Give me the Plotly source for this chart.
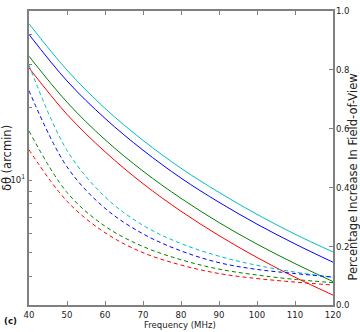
import plotly.graph_objects as go

freq = [40, 50, 60, 70, 80, 90, 100, 110, 120]

# solid lines: delta theta (arcmin), left log axis
theta_cyan = [44.3, 28.5, 19.8, 14.6, 11.2, 8.9, 7.22, 5.98, 5.05]
theta_blue = [40.0, 25.7, 18.0, 13.3, 10.2, 8.10, 6.58, 5.45, 4.58]
theta_green = [32.5, 21.0, 14.7, 10.9, 8.41, 6.68, 5.44, 4.52, 3.81]
theta_red = [29.1, 18.7, 13.1, 9.67, 7.44, 5.90, 4.79, 3.97, 3.35]

# dashed lines: percentage increase in FoV, right axis
pct_cyan = [0.816, 0.526, 0.368, 0.271, 0.209, 0.166, 0.135, 0.112, 0.094]
pct_blue = [0.729, 0.470, 0.329, 0.242, 0.184, 0.144, 0.121, 0.107, 0.095]
pct_green = [0.592, 0.383, 0.268, 0.199, 0.154, 0.122, 0.102, 0.087, 0.076]
pct_red = [0.528, 0.353, 0.246, 0.178, 0.136, 0.107, 0.090, 0.078, 0.068]

x_ticks = [40, 50, 60, 70, 80, 90, 100, 110, 120]
y_major = [10]
y_major_text = ["10<sup>1</sup>"]
y_minor = [4, 5, 6, 7, 8, 9, 20, 30, 40]
y2_ticks = [0.0, 0.2, 0.4, 0.6, 0.8, 1.0]

colors = {"cyan": "#00bfbf", "blue": "#0000ff", "green": "#008000", "red": "#ff0000"}

fig = go.Figure()
for name, vals in [("cyan", theta_cyan), ("blue", theta_blue), ("green", theta_green), ("red", theta_red)]:
    fig.add_trace(go.Scatter(x=freq, y=vals, mode="lines", line=dict(color=colors[name], width=1, shape="spline"),
                             showlegend=False, yaxis="y"))
for name, vals in [("cyan", pct_cyan), ("blue", pct_blue), ("green", pct_green), ("red", pct_red)]:
    fig.add_trace(go.Scatter(x=freq, y=vals, mode="lines",
                             line=dict(color=colors[name], width=1, dash="4px,3px", shape="spline"),
                             showlegend=False, yaxis="y2"))

font = dict(family="DejaVu Sans Condensed, DejaVu Sans", size=9.5, color="#222222")
vfont = dict(family="DejaVu Sans", size=11.5, color="#222222")
axcol = "#808080"
fig.update_layout(
    width=360, height=332,
    margin=dict(l=29, r=27, t=5, b=27),
    paper_bgcolor="white", plot_bgcolor="white",
    font=font,
    xaxis=dict(range=[40, 120], tickvals=x_ticks, ticks="inside", ticklen=4, tickcolor=axcol,
               showline=True, linecolor=axcol, linewidth=2, mirror="ticks", showgrid=False, zeroline=False,
               tickfont=font),
    yaxis=dict(type="log", range=[0.484, 1.699], tickvals=y_major, ticktext=y_major_text,
               ticks="inside", ticklen=3, tickcolor=axcol, showline=True, linecolor=axcol, linewidth=2,
               minor=dict(tickvals=y_minor, ticks="inside", ticklen=3, tickcolor=axcol, showgrid=False),
               mirror=True, showgrid=False, zeroline=False, tickfont=font),
    yaxis2=dict(range=[0, 1], overlaying="y", side="right", tickvals=y2_ticks, tickformat=".1f",
                ticks="inside", ticklen=4, tickcolor=axcol, showline=True, linecolor=axcol, linewidth=1,
                showgrid=False, zeroline=False, tickfont=font),
    annotations=[
        dict(text="δθ (arcmin)", xref="paper", yref="paper", x=-0.072, y=0.5, showarrow=False,
             textangle=-90, font=vfont, xanchor="center", yanchor="middle"),
        dict(text="Percentage Increase In Field-of-View", xref="paper", yref="paper", x=1.067, y=0.435,
             showarrow=False, textangle=-90, font=vfont, xanchor="center", yanchor="middle"),
        dict(text="Frequency (MHz)", xref="paper", yref="paper", x=0.497, y=-0.068, showarrow=False,
             font=font, xanchor="center", yanchor="middle"),
        dict(text="<b>(c)</b>", xref="paper", yref="paper", x=-0.06, y=-0.053, showarrow=False,
             font=dict(family="DejaVu Sans Condensed, DejaVu Sans", size=9.5, color="#111111"),
             xanchor="center", yanchor="middle"),
    ],
)

fig.write_html("out.html", config={"displayModeBar": False},
               post_script="document.body.style.margin='0';document.body.style.overflow='hidden';")
